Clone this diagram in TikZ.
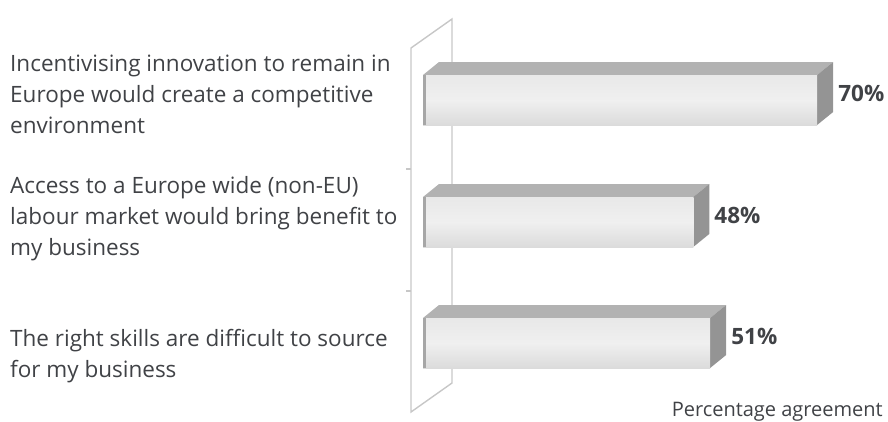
\documentclass[tikz,border=0pt]{standalone}
\usepackage{fontspec}
\setmainfont{Open Sans}
\usetikzlibrary{calc}
\definecolor{txt}{HTML}{404246}
\newcommand{\mybar}[3]{%
  \coordinate (#3fl) at (423,#2);
  \coordinate (#3fr) at ({423+5.63*#1},#2);
  \coordinate (#3br) at ({423+5.63*#1},{#2+50});
  \coordinate (#3bl) at (423,{#2+50});
  \fill[topface] (#3fl) -- ++(16,-13) -- ($(#3fr)+(16,-13)$) -- (#3fr) -- cycle;
  \fill[sideface] (#3fr) -- ++(16,-13) -- ++(0,50) -- (#3br) -- cycle;
  \fill[frontface] (#3fl) rectangle (#3br);
  \fill[black!35] (#3fl) rectangle ($(#3bl)+(3,0)$);
  \node[pct] (#3lab) at ($(#3fr)+(21,18.5)$) {#1\%};
}
\begin{document}
\begin{tikzpicture}[x=1pt,y=-1pt,
  wall/.style={draw=black!22,line width=1.4pt},
  lbl/.style={anchor=base west,align=left,inner sep=0pt,text=txt,font=\fontsize{22.5}{31}\selectfont},
  pct/.style={anchor=west,inner sep=0pt,text=txt,font=\fontsize{22.5}{26}\selectfont\bfseries},
  frontface/.style={top color=black!9,bottom color=black!14,middle color=black!6},
  topface/.style={fill=black!30},
  sideface/.style={fill=black!42}]
\useasboundingbox (0,0) rectangle (888,421);
% wall
\coordinate (wfT) at (411,48);
\coordinate (wfB) at (411,412);
\coordinate (wbT) at (452,19);
\coordinate (wbB) at (452,383);
\draw[wall] (wfB) -- (wfT) -- (wbT) -- (wbB) -- cycle;
\coordinate (t1) at (411,169);
\coordinate (t2) at (411,291);
\draw[wall] (t1) -- ++(-5,0);
\draw[wall] (t2) -- ++(-5,0);
% bars
\mybar{70}{75}{a}
\mybar{48}{197}{b}
\mybar{51}{318}{c}
% category labels (anchor = baseline of last line)
\node[lbl] (la) at (10,133) {Incentivising innovation to remain in\\Europe would create a competitive\\environment};
\node[lbl] (lb) at (10,255) {Access to a Europe wide (non-EU)\\labour market would bring benefit to\\my business};
\node[lbl] (lc) at (10,377) {The right skills are difficult to source\\for my business};
\node[anchor=base east,inner sep=0pt,text=txt,font=\fontsize{20}{22}\selectfont] (axis) at (883,416) {Percentage agreement};
\end{tikzpicture}
\end{document}
